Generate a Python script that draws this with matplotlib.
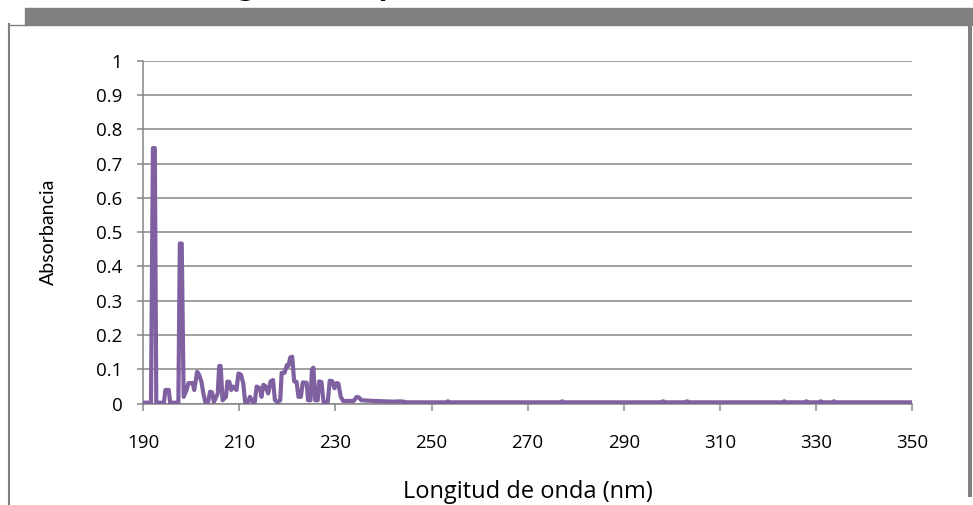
import matplotlib
matplotlib.use("Agg")
import matplotlib.pyplot as plt
from matplotlib.patches import Rectangle
from matplotlib.lines import Line2D

# UV spectrum, wavelength (nm) vs absorbance
wavelength = [
    190.0, 191.6, 192.0, 192.4, 192.7, 194.3, 194.6, 195.3, 195.6, 197.3,
    197.6, 198.0, 198.4, 199.0, 199.4, 200.3, 200.6, 201.2, 201.6, 202.1,
    202.5, 202.9, 203.5, 203.9, 204.3, 204.7, 205.5, 205.8, 206.1, 206.5,
    207.2, 207.5, 207.9, 208.3, 208.7, 209.4, 209.8, 210.3, 210.8, 211.2,
    211.8, 212.2, 212.8, 213.2, 213.6, 214.3, 214.6, 215.0, 215.5, 216.0,
    216.5, 217.0, 217.4, 218.0, 218.5, 218.8, 219.4, 219.9, 220.2, 220.6,
    221.0, 221.4, 221.9, 222.3, 222.8, 223.2, 224.0, 224.3, 224.8, 225.1,
    225.4, 225.8, 226.3, 226.6, 227.1, 227.5, 228.4, 228.8, 229.3, 229.8,
    230.2, 230.6, 231.1, 231.6, 233.8, 234.4, 234.9, 235.4, 238.0, 242.0,
    243.5, 245.0, 253.0, 253.4, 253.8, 276.8, 277.2, 277.6, 297.8, 298.2,
    298.6, 302.8, 303.2, 303.6, 323.0, 323.4, 323.8, 327.6, 328.0, 328.4,
    330.6, 331.0, 331.4, 333.4, 333.8, 334.2, 350.0,
]
absorbance = [
    0.003, 0.003, 0.745, 0.745, 0.003, 0.003, 0.040, 0.040, 0.003, 0.003,
    0.467, 0.467, 0.020, 0.040, 0.060, 0.060, 0.040, 0.093, 0.085, 0.064,
    0.030, 0.005, 0.005, 0.035, 0.033, 0.005, 0.030, 0.110, 0.110, 0.010,
    0.020, 0.064, 0.064, 0.040, 0.050, 0.040, 0.088, 0.085, 0.060, 0.005,
    0.005, 0.020, 0.005, 0.005, 0.050, 0.045, 0.020, 0.055, 0.050, 0.030,
    0.065, 0.069, 0.010, 0.005, 0.010, 0.090, 0.090, 0.113, 0.110, 0.135,
    0.137, 0.065, 0.064, 0.020, 0.020, 0.062, 0.061, 0.010, 0.010, 0.100,
    0.105, 0.010, 0.010, 0.065, 0.063, 0.005, 0.005, 0.067, 0.066, 0.045,
    0.060, 0.059, 0.020, 0.008, 0.008, 0.020, 0.018, 0.010, 0.008, 0.006,
    0.007, 0.004, 0.004, 0.007, 0.004, 0.004, 0.007, 0.004, 0.004, 0.007,
    0.004, 0.004, 0.007, 0.004, 0.004, 0.007, 0.004, 0.004, 0.007, 0.004,
    0.004, 0.007, 0.004, 0.004, 0.007, 0.004, 0.004,
]

x_ticks = [190, 210, 230, 250, 270, 290, 310, 330, 350]
y_ticks = [0, 0.1, 0.2, 0.3, 0.4, 0.5, 0.6, 0.7, 0.8, 0.9, 1]
y_labels = ["0", "0.1", "0.2", "0.3", "0.4", "0.5", "0.6", "0.7", "0.8", "0.9", "1"]

title = "Figura 4. Espectro en UV de ácido úrico"
x_title = "Longitud de onda (nm)"
y_title = "Absorbancia"

grey = "#868686"
purple = "#7F60A0"
wide = "Open Sans"
narrow = "Lato"

fig = plt.figure(figsize=(9.73, 5.05), dpi=100)
W, H = 973, 505

# frame around the chart
fig.patches.append(Rectangle((25 / W, 1 - 25 / H), 948 / W, 17 / H,
                             transform=fig.transFigure, color="#808080", zorder=0))
fig.lines.append(Line2D([9 / W, 9 / W], [0, 1 - 24 / H], transform=fig.transFigure,
                        color="#808080", lw=1.5))
fig.lines.append(Line2D([8 / W, 25 / W], [1 - 24.5 / H, 1 - 24.5 / H],
                        transform=fig.transFigure, color="#808080", lw=1.0))
fig.lines.append(Line2D([970 / W, 970 / W], [1 - 25 / H, 1 - 495 / H],
                        transform=fig.transFigure, color="#808080", lw=2.9))

fig.text(0.505, 1 + 4 / H, title, ha="center", va="baseline", fontsize=18,
         fontweight="bold", family="DejaVu Sans")

ax = fig.add_axes([143.3 / W, 1 - 403.7 / H, (912 - 143.3) / W, (403.7 - 60.7) / H])
ax.plot(wavelength, absorbance, color=purple, lw=3.0, solid_joinstyle="round", zorder=3)

ax.set_xlim(190, 350)
ax.set_ylim(0, 1)
ax.set_xticks(x_ticks)
ax.set_xticklabels([str(v) for v in x_ticks], family=wide, fontsize=13.5)
ax.set_yticks(y_ticks)
ax.set_yticklabels(y_labels, family=wide, fontsize=13.5)
ax.grid(axis="y", color=grey, lw=1.1)
ax.set_axisbelow(True)

for side in ["top", "right"]:
    ax.spines[side].set_visible(False)
for side in ["left", "bottom"]:
    ax.spines[side].set_color(grey)
    ax.spines[side].set_linewidth(1.1)
ax.tick_params(axis="x", direction="out", length=5, width=1.1, color=grey, pad=17)
ax.tick_params(axis="y", direction="out", length=4, width=1.1, color=grey, pad=11)

ax.set_xlabel(x_title, family=wide, fontsize=17, labelpad=20)
ax.set_ylabel(y_title, family=narrow, fontsize=14, labelpad=28)

fig.savefig("out.png", dpi=100)
